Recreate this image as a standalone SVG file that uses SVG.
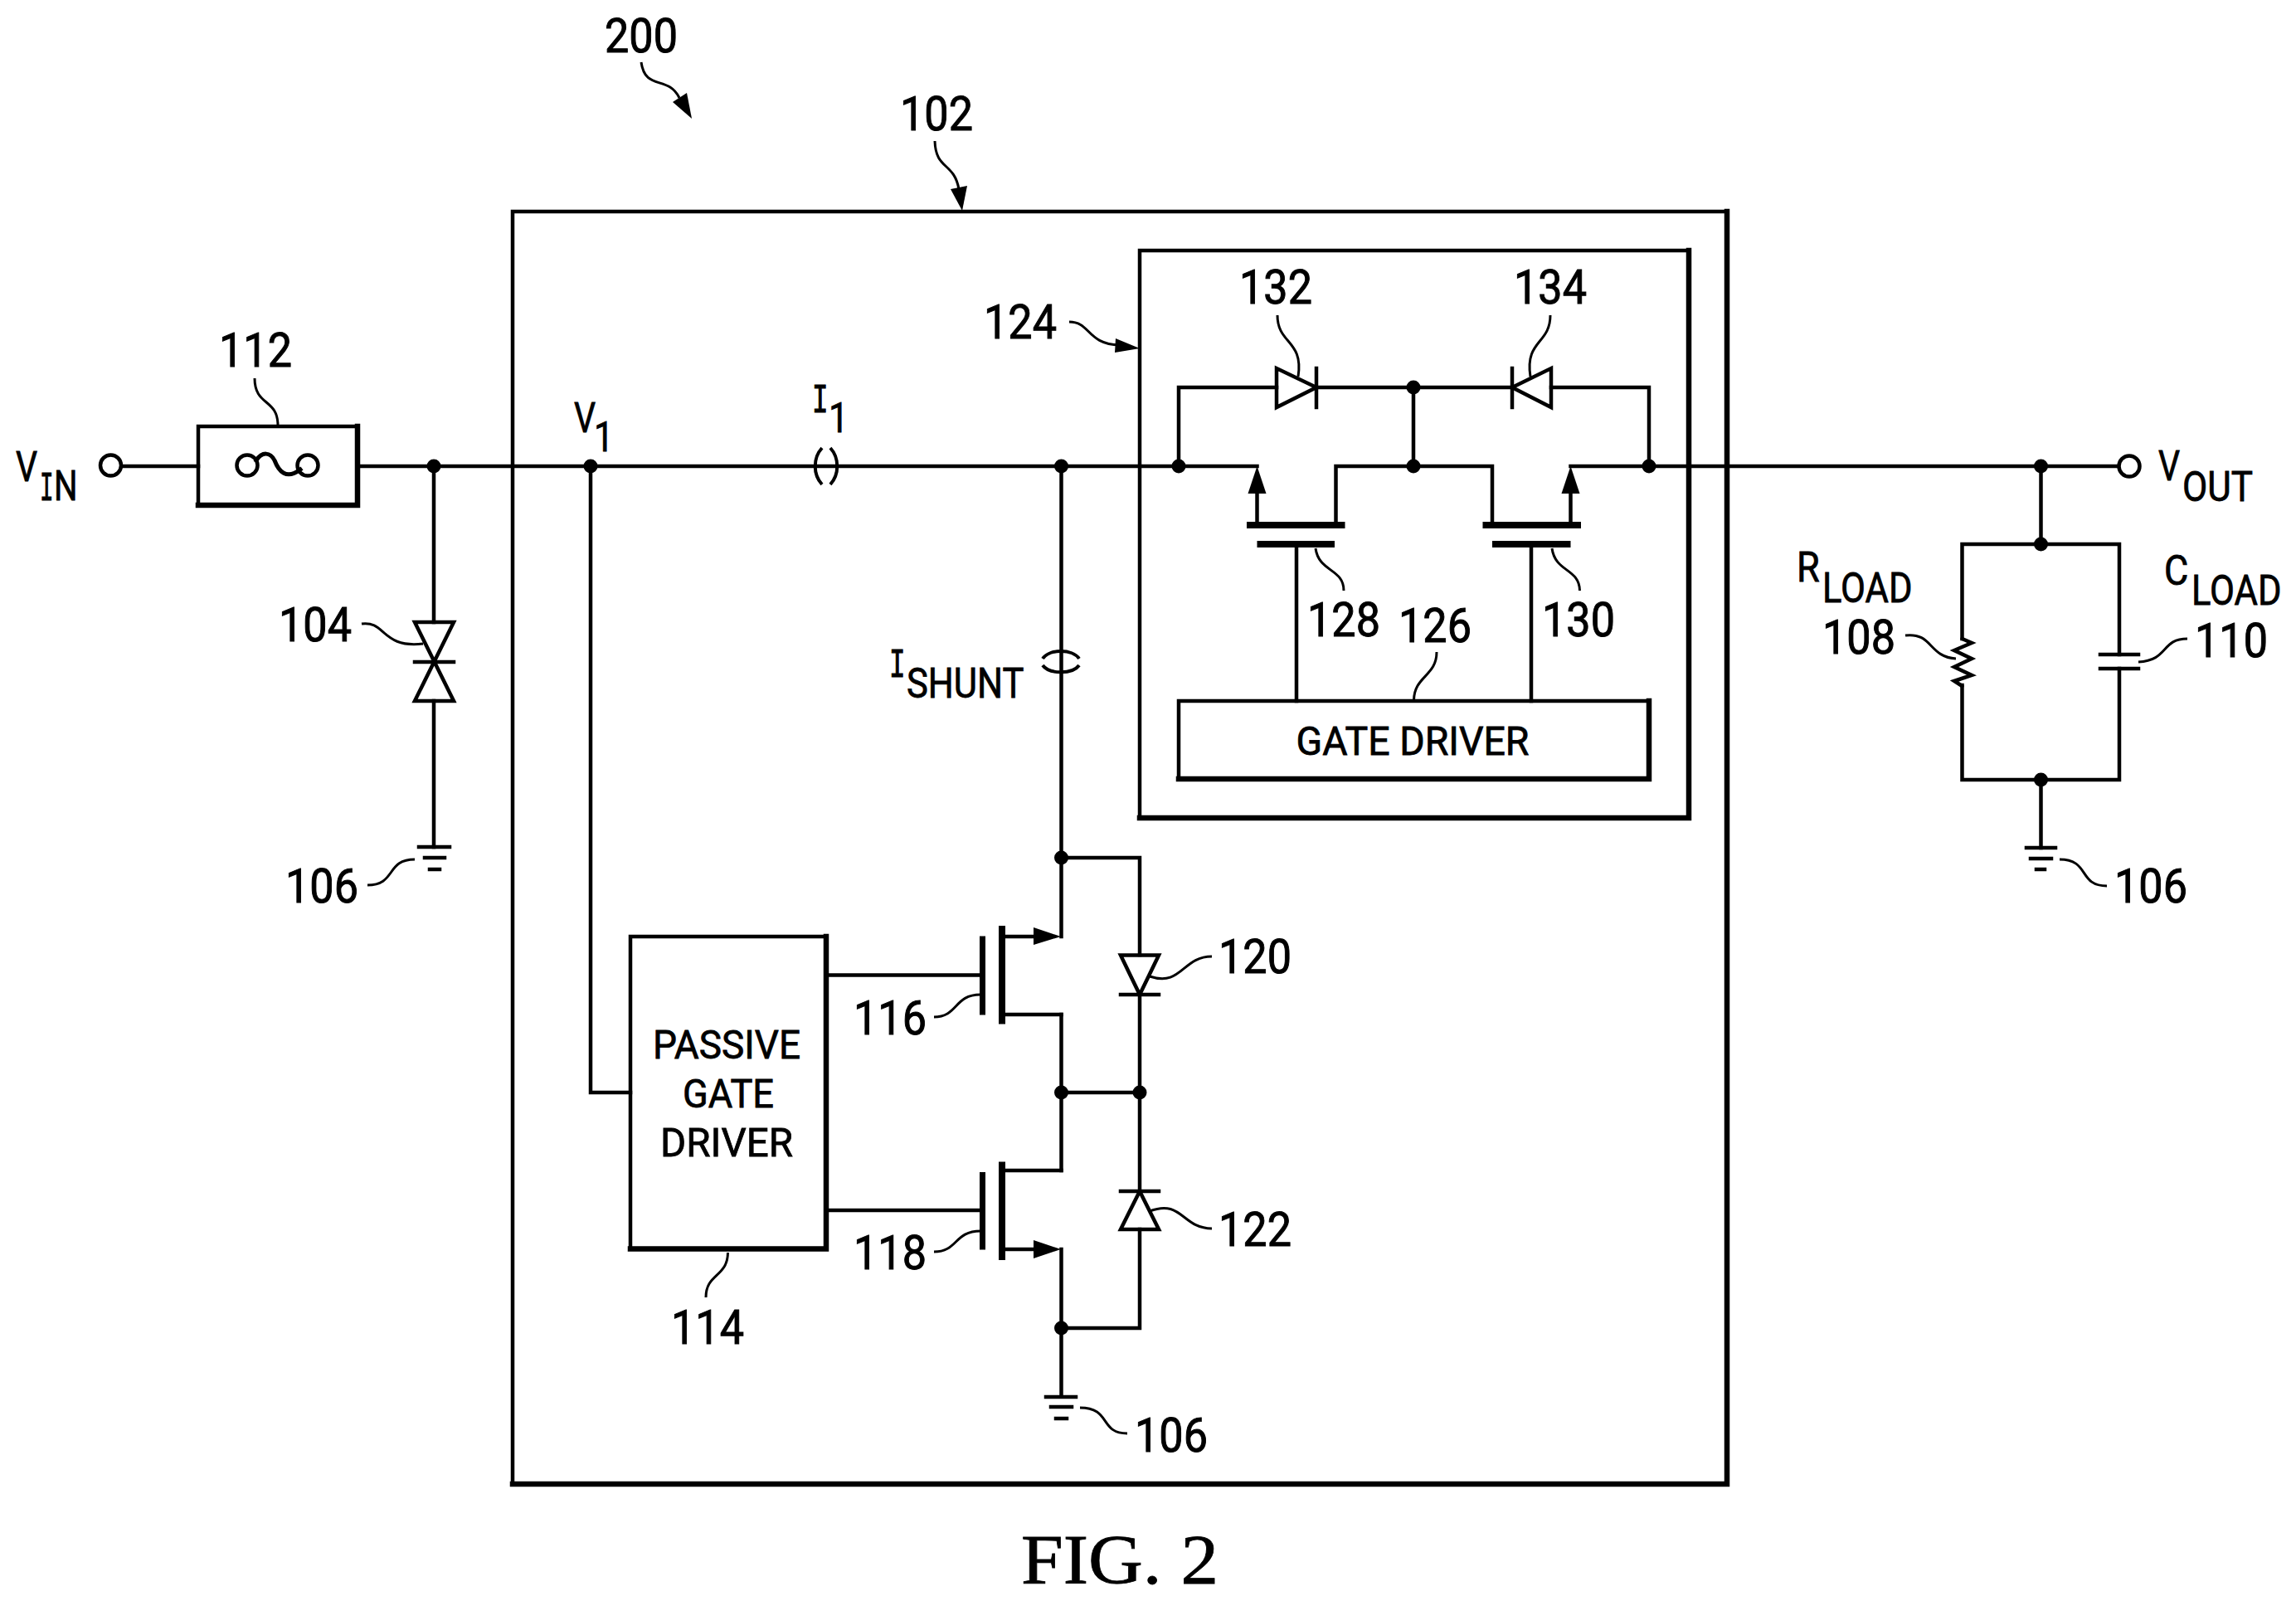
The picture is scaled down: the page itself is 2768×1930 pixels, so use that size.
<svg xmlns="http://www.w3.org/2000/svg" width="2768" height="1930" viewBox="0 0 2768 1930">
<style>
.w{fill:none;stroke:#000;stroke-width:4.5;stroke-linecap:square;stroke-linejoin:miter}
.t{fill:none;stroke:#000;stroke-width:6.5;stroke-linecap:square}
.b{fill:none;stroke:#000;stroke-width:8}
.l{fill:none;stroke:#000;stroke-width:3}
.f{fill:#000;stroke:none}
.n{font-family:Roboto,"Liberation Sans",Arial,sans-serif;font-size:58px;text-anchor:middle;fill:#000;stroke:#000;stroke-width:1}
.s{font-family:Roboto,"Liberation Sans",Arial,sans-serif;font-size:50px;fill:#000;stroke:#000;stroke-width:.8}
.m{font-family:"Liberation Mono",monospace;font-size:50px;fill:#000;stroke:#000;stroke-width:1.2}
.c{font-family:Roboto,"Liberation Sans",Arial,sans-serif;font-size:49px;text-anchor:middle;fill:#000;stroke:#000;stroke-width:.8}
.x{font-family:"Liberation Serif","Times New Roman",serif;font-size:84px;fill:#000;stroke:#000;stroke-width:.8}
</style>
<rect width="2768" height="1930" fill="#fff"/>
<g id="connectors">
<path class="w" d="M147 562H239M431 562H1515.5M1610.5 632V562H1799V632M1893.5 562H2554"/>
<path class="w" d="M523 562V750M523 845V1021"/>
<path class="w" d="M712 562V1317H760"/>
<path class="w" d="M1279.5 562V1129M1279.5 1223V1411M1279.5 1506V1683"/>
<path class="w" d="M1279 1034H1374V1151M1374 1199V1436M1374 1482V1601H1279M1279 1317H1374"/>
<path class="w" d="M996 1175.5H1182M996 1459H1182"/>
<path class="w" d="M1421 562V467H1539M1587 467H1823M1870 467H1988V562M1704 467V562"/>
<path class="w" d="M1563 656V845M1846 656V845"/>
<path class="w" d="M2460.5 562V656M2365.5 770V656H2555V789M2555 806V940H2365.5V826M2460.5 940V1022"/>
</g>
<g id="junctions">
<g class="f">
<circle cx="523" cy="562" r="8.5"/><circle cx="712" cy="562" r="8.5"/><circle cx="1279.5" cy="562" r="8.5"/><circle cx="1421" cy="562" r="8.5"/><circle cx="1704" cy="467" r="8.5"/><circle cx="1704" cy="562" r="8.5"/><circle cx="1988" cy="562" r="8.5"/><circle cx="2460.5" cy="562" r="8.5"/><circle cx="2460.5" cy="656" r="8.5"/><circle cx="2460.5" cy="940" r="8.5"/><circle cx="1279.5" cy="1034" r="8.5"/><circle cx="1279.5" cy="1317" r="8.5"/><circle cx="1374" cy="1317" r="8.5"/><circle cx="1279.5" cy="1601" r="8.5"/>
</g>
</g>
<g id="box-102">
<path class="w" d="M2082 255H618V1789"/>
<path class="t" d="M2082 255V1789H618"/>
<text class="n" x="1129" y="157" textLength="88" lengthAdjust="spacingAndGlyphs">102</text>
<path class="l" d="M1127 170C1128 205 1150 195 1156 228"/>
<polygon class="f" points="1160,254 1146,228 1166,224"/>
</g>
<g id="label-200">
<text class="n" x="773" y="63" textLength="88" lengthAdjust="spacingAndGlyphs">200</text>
<path class="l" d="M773 75C778 110 805 90 819 118"/>
<polygon class="f" points="834,143 811,123 828,112"/>
</g>
<g id="vin">
<circle class="w" cx="133.5" cy="561" r="12.5" fill="#fff"/>
<text class="s" transform="translate(19 580) scale(.82 1)">V</text>
<text class="m" transform="translate(48 603) scale(.55 1)">I</text>
<text class="s" transform="translate(65 603) scale(.8 1)">N</text>
</g>
<g id="fuse-112">
<path class="w" d="M431 514H239V609"/>
<path class="t" d="M431 514V609H239"/>
<circle class="w" cx="298" cy="561" r="12.5"/>
<circle class="w" cx="371" cy="561" r="12.5"/>
<path class="t" d="M309 555C316 544 326 545 331 555C336 568 345 579 362 566" style="stroke-width:5"/>
<text class="n" x="308" y="442" textLength="88" lengthAdjust="spacingAndGlyphs">112</text>
<path class="l" d="M307 456C307 490 335 480 335 513"/>
</g>
<g id="tvs-104">
<polygon class="w" points="500,750 547,750 500,845 547,845"/>
<path class="w" d="M500 798H547"/>
<text class="n" x="380" y="773" textLength="88" lengthAdjust="spacingAndGlyphs">104</text>
<path class="l" d="M436 752C465 748 460 782 510 776"/>
</g>
<g id="ground-left">
<path class="w" d="M505 1021H542M512 1034H536M518 1048H530"/>
<text class="n" x="388" y="1088" textLength="88" lengthAdjust="spacingAndGlyphs">106</text>
<path class="l" d="M443 1067C478 1067 465 1036 500 1036"/>
</g>
<g id="v1">
<text class="s" transform="translate(692 521) scale(.82 1)">V</text>
<text class="s" transform="translate(716 544) scale(.85 1)">1</text>
</g>
<g id="i1">
<text class="m" transform="translate(979 497) scale(.65 1)">I</text>
<text class="s" transform="translate(999 521) scale(.85 1)">1</text>
<path class="l" d="M991 540C980 552 980 572 991 584M1001 540C1012 552 1012 572 1001 584" style="stroke-width:4"/>
</g>
<g id="ishunt">
<text class="m" transform="translate(1072 816) scale(.65 1)">I</text>
<text class="s" transform="translate(1093 841) scale(.87 1)">SHUNT</text>
<path class="l" d="M1257 794C1265 782 1293 782 1301 794M1257 802C1265 813 1293 813 1301 802" style="stroke-width:4"/>
</g>
<g id="passive-gate-driver-114">
<path class="w" d="M996 1129H760V1505"/>
<path class="t" d="M996 1129V1505.5H760"/>
<text class="c" x="876" y="1276" textLength="178" lengthAdjust="spacingAndGlyphs">PASSIVE</text>
<text class="c" x="878" y="1335" textLength="110" lengthAdjust="spacingAndGlyphs">GATE</text>
<text class="c" x="876" y="1394" textLength="160" lengthAdjust="spacingAndGlyphs">DRIVER</text>
<text class="n" x="853" y="1620" textLength="88" lengthAdjust="spacingAndGlyphs">114</text>
<path class="l" d="M877.5 1510C877 1540 851 1535 851 1564"/>
</g>
<g id="fet-116">
<path class="b" d="M1184.5 1128.5V1223.5" style="stroke-width:7"/>
<path class="b" d="M1208 1116V1234.5"/>
<path class="w" d="M1212 1129H1250M1212 1223H1279.5"/>
<polygon class="f" points="1279,1129 1246,1118 1246,1139"/>
<text class="n" x="1073" y="1247" textLength="88" lengthAdjust="spacingAndGlyphs">116</text>
<path class="l" d="M1126 1226C1155 1226 1150 1199 1182 1199"/>
</g>
<g id="fet-118">
<path class="b" d="M1184.5 1413V1506.5" style="stroke-width:7"/>
<path class="b" d="M1208 1400.5V1519"/>
<path class="w" d="M1212 1506H1250M1212 1411H1279.5"/>
<polygon class="f" points="1279,1506 1246,1495 1246,1517"/>
<text class="n" x="1073" y="1530" textLength="88" lengthAdjust="spacingAndGlyphs">118</text>
<path class="l" d="M1126 1509C1155 1509 1150 1484 1182 1484"/>
</g>
<g id="diode-120">
<polygon class="w" points="1351,1151.5 1397,1151.5 1374,1199"/>
<path class="w" d="M1351 1199H1397"/>
<text class="n" x="1513" y="1173" textLength="88" lengthAdjust="spacingAndGlyphs">120</text>
<path class="l" d="M1386 1177C1425 1190 1425 1153 1461 1153"/>
</g>
<g id="diode-122">
<polygon class="w" points="1351,1482 1397,1482 1374,1436"/>
<path class="w" d="M1351 1436H1397"/>
<text class="n" x="1513" y="1502" textLength="88" lengthAdjust="spacingAndGlyphs">122</text>
<path class="l" d="M1386 1460C1425 1445 1425 1481 1461 1481"/>
</g>
<g id="ground-center">
<path class="w" d="M1261 1684H1297M1267 1696H1292M1273 1710H1286"/>
<text class="n" x="1412" y="1750" textLength="88" lengthAdjust="spacingAndGlyphs">106</text>
<path class="l" d="M1302 1697C1340 1697 1325 1728 1359 1728"/>
</g>
<g id="switch-124">
<path class="w" d="M2036 302H1374V986"/>
<path class="t" d="M2036 302V986H1374"/>
<text class="n" x="1230" y="408" textLength="88" lengthAdjust="spacingAndGlyphs">124</text>
<path class="l" d="M1289 388C1315 388 1310 415 1350 416"/>
<polygon class="f" points="1374,420 1345,408 1344,425"/>
</g>
<g id="diode-132">
<polygon class="w" points="1539,444 1539,491 1587,467"/>
<path class="w" d="M1587 444V491"/>
<text class="n" x="1538" y="366" textLength="88" lengthAdjust="spacingAndGlyphs">132</text>
<path class="l" d="M1540 380C1540 415 1572 410 1565 454"/>
</g>
<g id="diode-134">
<polygon class="w" points="1870,444 1870,491 1823,467"/>
<path class="w" d="M1823 444V491"/>
<text class="n" x="1869" y="366" textLength="88" lengthAdjust="spacingAndGlyphs">134</text>
<path class="l" d="M1869 380C1869 415 1838 410 1845 454"/>
</g>
<g id="fet-128">
<path class="w" d="M1515.5 590V632"/>
<polygon class="f" points="1515.5,562 1504.5,595 1526.5,595"/>
<path class="b" d="M1503 633H1621.5M1515.5 656H1609"/>
<text class="n" x="1620" y="767" textLength="88" lengthAdjust="spacingAndGlyphs">128</text>
<path class="l" d="M1586 661C1590 690 1620 685 1620 712"/>
</g>
<g id="fet-130">
<path class="w" d="M1893.5 590V632"/>
<polygon class="f" points="1893.5,562 1882.5,595 1904.5,595"/>
<path class="b" d="M1787.5 633H1906M1799 656H1893.5"/>
<text class="n" x="1903" y="767" textLength="88" lengthAdjust="spacingAndGlyphs">130</text>
<path class="l" d="M1871 661C1875 690 1904 685 1904.5 712"/>
</g>
<g id="gate-driver-126">
<path class="w" d="M1988 845H1421V939"/>
<path class="t" d="M1988 845V939H1421"/>
<text class="c" x="1703" y="910" textLength="281" lengthAdjust="spacingAndGlyphs">GATE DRIVER</text>
<text class="n" x="1730" y="774" textLength="88" lengthAdjust="spacingAndGlyphs">126</text>
<path class="l" d="M1732 786C1732 815 1705 815 1704.5 844"/>
</g>
<g id="vout">
<circle class="w" cx="2567" cy="562" r="12.5"/>
<text class="s" transform="translate(2602 579) scale(.82 1)">V</text>
<text class="s" transform="translate(2631 604) scale(.88 1)">OUT</text>
</g>
<g id="rload-108">
<path class="w" d="M2365.5 770L2377 775L2356 784L2377 794L2356 804L2377 814L2356 821L2365.5 827" style="stroke-linecap:round"/>
<text class="s" transform="translate(2166 701) scale(.9 1)">R</text>
<text class="s" transform="translate(2197 726) scale(.87 1)">LOAD</text>
<text class="n" x="2241" y="788" textLength="88" lengthAdjust="spacingAndGlyphs">108</text>
<path class="l" d="M2297 766C2330 762 2325 792 2358 794"/>
</g>
<g id="cload-110">
<path class="w" d="M2532 789H2578M2532 806H2578"/>
<text class="s" transform="translate(2609 705) scale(.9 1)">C</text>
<text class="s" transform="translate(2642 729) scale(.87 1)">LOAD</text>
<text class="n" x="2690" y="792" textLength="88" lengthAdjust="spacingAndGlyphs">110</text>
<path class="l" d="M2578 798C2615 796 2605 770 2637 770"/>
</g>
<g id="ground-right">
<path class="w" d="M2443 1022H2478M2448 1035H2473M2455 1048H2465"/>
<text class="n" x="2593" y="1088" textLength="88" lengthAdjust="spacingAndGlyphs">106</text>
<path class="l" d="M2483 1036C2520 1036 2505 1068 2540 1068"/>
</g>
<text class="x" x="1231" y="1909" textLength="238" lengthAdjust="spacingAndGlyphs">FIG. 2</text>
</svg>
